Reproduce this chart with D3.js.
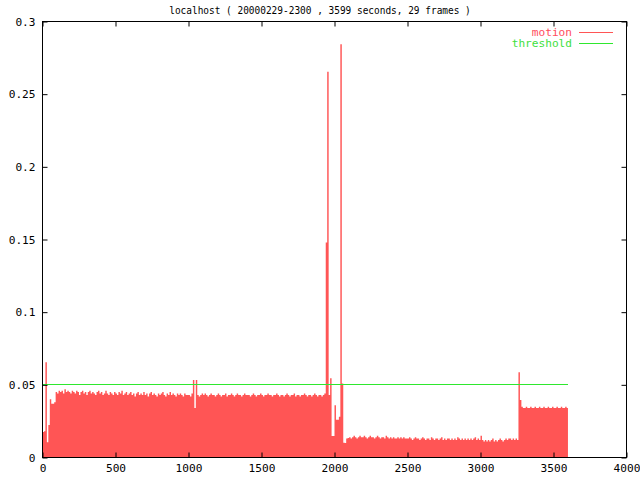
<!DOCTYPE html>
<html>
<head>
<meta charset="utf-8">
<script src="https://cdn.jsdelivr.net/npm/d3@7"></script>
<style>
  body { margin: 0; background: #fff; }
  svg text { font-family: "DejaVu Sans Mono", monospace; font-size: 10px; }
</style>
</head>
<body>
<svg id="chart" width="640" height="480"></svg>
<script>
// chart text
const chartTitle = "localhost ( 20000229-2300 , 3599 seconds, 29 frames )";
const seriesNames = ["motion", "threshold"];

// tick labels
const xTicks = [0, 500, 1000, 1500, 2000, 2500, 3000, 3500, 4000];
const yTicks = [0, 0.05, 0.1, 0.15, 0.2, 0.25, 0.3];

// motion samples, one every 10 seconds (one row = 100 s)
const sampleStep = 10;
const totalSeconds = 3599;
const motionValues = [
  0.0175,0.018,0.0655,0.0105,0.0224,0.040,0.037,0.037,0.038,0.045,
  0.044,0.046,0.045,0.046,0.044,0.047,0.045,0.046,0.045,0.044,
  0.046,0.045,0.044,0.046,0.045,0.043,0.045,0.046,0.044,0.045,
  0.043,0.045,0.046,0.044,0.045,0.044,0.043,0.045,0.046,0.044,
  0.045,0.043,0.044,0.046,0.044,0.043,0.045,0.044,0.043,0.045,
  0.044,0.043,0.045,0.044,0.046,0.043,0.044,0.045,0.043,0.044,
  0.045,0.043,0.044,0.042,0.044,0.045,0.043,0.044,0.043,0.045,
  0.043,0.044,0.042,0.044,0.045,0.043,0.044,0.043,0.042,0.044,
  0.043,0.044,0.045,0.043,0.042,0.044,0.043,0.045,0.043,0.044,
  0.043,0.042,0.044,0.043,0.044,0.043,0.042,0.044,0.043,0.043,
  0.043,0.042,0.044,0.0533,0.034,0.0533,0.043,0.042,0.043,0.044,
  0.043,0.044,0.043,0.042,0.043,0.044,0.043,0.043,0.042,0.043,
  0.044,0.043,0.042,0.043,0.043,0.044,0.042,0.043,0.043,0.044,
  0.043,0.042,0.043,0.044,0.043,0.043,0.042,0.043,0.044,0.043,
  0.043,0.043,0.042,0.043,0.044,0.043,0.042,0.043,0.043,0.044,
  0.043,0.042,0.043,0.043,0.044,0.043,0.043,0.042,0.043,0.043,
  0.044,0.043,0.042,0.043,0.043,0.042,0.043,0.044,0.043,0.042,
  0.043,0.043,0.044,0.042,0.043,0.043,0.042,0.043,0.043,0.044,
  0.043,0.042,0.043,0.043,0.042,0.043,0.044,0.043,0.042,0.043,
  0.043,0.042,0.043,0.044,0.148,0.2655,0.043,0.0545,0.0148,0.0148,
  0.036,0.026,0.026,0.028,0.2844,0.051,0.0102,0.010,0.013,0.0135,
  0.014,0.013,0.014,0.015,0.014,0.013,0.014,0.015,0.014,0.014,
  0.015,0.014,0.013,0.014,0.015,0.014,0.014,0.013,0.014,0.015,
  0.014,0.013,0.014,0.014,0.013,0.015,0.014,0.013,0.014,0.013,
  0.014,0.013,0.013,0.014,0.013,0.014,0.013,0.014,0.013,0.013,
  0.013,0.014,0.013,0.012,0.013,0.014,0.013,0.013,0.012,0.013,
  0.014,0.013,0.012,0.013,0.013,0.012,0.014,0.013,0.012,0.013,
  0.013,0.012,0.013,0.014,0.012,0.013,0.012,0.013,0.013,0.012,
  0.013,0.012,0.013,0.012,0.014,0.013,0.012,0.013,0.012,0.013,
  0.012,0.013,0.012,0.013,0.012,0.013,0.014,0.012,0.013,0.012,
  0.015,0.012,0.011,0.012,0.011,0.012,0.011,0.012,0.013,0.011,
  0.012,0.011,0.012,0.013,0.012,0.011,0.012,0.013,0.012,0.013,
  0.013,0.012,0.013,0.012,0.013,0.012,0.0586,0.0396,0.035,0.034,
  0.034,0.035,0.034,0.034,0.035,0.034,0.034,0.035,0.034,0.034,
  0.035,0.034,0.034,0.035,0.034,0.034,0.035,0.034,0.034,0.035,
  0.034,0.034,0.035,0.034,0.034,0.035,0.034,0.034,0.035,0.034
];
const thresholdValue = 0.05;

const motionColor = "#ff5555";
const thresholdColor = "#2ee82e";

drawChart();

function drawChart() {
  const svg = d3.select("#chart");
  const left = 42.5, right = 626.5, top = 21.5, bottom = 457.5;
  const charW = 6.7; // gnuplot font is wide

  const xScale = d3.scaleLinear().domain([0, 4000]).range([left, right]);
  const yScale = d3.scaleLinear().domain([0, 0.3]).range([bottom, top]);

  // motion as filled steps
  const pts = motionValues.map((v, i) => ({ t: i * sampleStep, v: v }));
  pts.push({ t: totalSeconds, v: motionValues[motionValues.length - 1] });
  const area = d3.area()
    .curve(d3.curveStepAfter)
    .x(d => xScale(d.t))
    .y0(yScale(0))
    .y1(d => yScale(d.v));
  svg.append("path")
    .datum(pts)
    .attr("d", area)
    .attr("fill", motionColor);

  // threshold line
  const ty = Math.round(yScale(thresholdValue)) - 0.5;
  svg.append("line")
    .attr("x1", xScale(0)).attr("x2", xScale(totalSeconds))
    .attr("y1", ty).attr("y2", ty)
    .attr("stroke", thresholdColor)
    .attr("stroke-width", 1)
    .attr("shape-rendering", "crispEdges");

  // axes, ticks pointing inward like gnuplot
  const xBottom = d3.axisBottom(xScale).tickValues(xTicks).tickSizeInner(-5).tickSizeOuter(0).tickPadding(8).tickFormat(d3.format("d"));
  const xTop = d3.axisTop(xScale).tickValues(xTicks).tickSizeInner(-5).tickSizeOuter(0).tickFormat("");
  const yLeft = d3.axisLeft(yScale).tickValues(yTicks).tickSizeInner(-5).tickSizeOuter(0).tickPadding(7).tickFormat(d => d === 0 ? "0" : String(+d.toFixed(2)));
  const yRight = d3.axisRight(yScale).tickValues(yTicks).tickSizeInner(-5).tickSizeOuter(0).tickFormat("");

  const gx = svg.append("g").attr("transform", "translate(0," + bottom + ")").call(xBottom);
  svg.append("g").attr("transform", "translate(0," + top + ")").call(xTop);
  const gy = svg.append("g").attr("transform", "translate(" + left + ",0)").call(yLeft);
  svg.append("g").attr("transform", "translate(" + right + ",0)").call(yRight);

  svg.selectAll(".domain").remove();
  svg.selectAll(".tick line").attr("stroke", "#000");
  svg.selectAll(".tick text")
    .attr("fill", "#000")
    .style("font-family", "DejaVu Sans Mono, monospace")
    .style("font-size", "10px")
    .attr("textLength", function() { return this.textContent.length * charW; })
    .attr("lengthAdjust", "spacingAndGlyphs");
  gx.selectAll(".tick text").attr("dy", "0.65em");
  gy.selectAll(".tick text").attr("dy", "0.35em");

  // frame
  svg.append("rect")
    .attr("x", left).attr("y", top)
    .attr("width", right - left).attr("height", bottom - top)
    .attr("fill", "none").attr("stroke", "#000");

  // title
  svg.append("text")
    .attr("x", 320).attr("y", 14)
    .attr("text-anchor", "middle")
    .attr("textLength", chartTitle.length * 5.69)
    .attr("lengthAdjust", "spacingAndGlyphs")
    .text(chartTitle);

  // legend
  const legendColors = [motionColor, thresholdColor];
  const legendText = ["#ff4c5c", "#3ee03e"];
  const legend = svg.selectAll(".legend")
    .data(seriesNames)
    .enter().append("g")
    .attr("class", "legend")
    .attr("transform", (d, i) => "translate(0," + (32.5 + i * 10.5) + ")");
  legend.append("text")
    .attr("x", 572).attr("dy", "0.35em")
    .attr("text-anchor", "end")
    .attr("fill", (d, i) => legendText[i])
    .attr("textLength", d => d.length * charW)
    .attr("lengthAdjust", "spacingAndGlyphs")
    .text(d => d);
  legend.append("line")
    .attr("x1", 579).attr("x2", 613)
    .attr("stroke", (d, i) => legendColors[i])
    .attr("shape-rendering", "crispEdges");
}
</script>
</body>
</html>
